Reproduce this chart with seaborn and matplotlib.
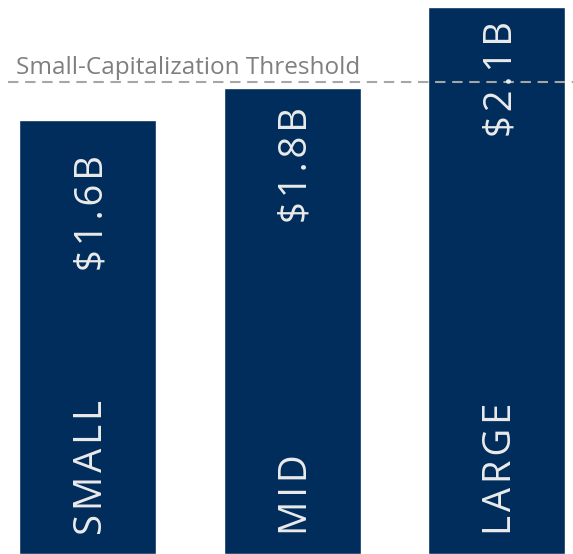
import matplotlib
matplotlib.use("Agg")
import matplotlib.pyplot as plt
import seaborn as sns
import pandas as pd

# bar heights (chart units, axis runs 0..554)
categories = ["SMALL", "MID", "LARGE"]
value_labels = ["$1.6B", "$1.8B", "$2.1B"]
bar_heights = [434, 466, 547]
threshold = 472
threshold_label = "Small-Capitalization Threshold"

navy = "#002D5B"
df = pd.DataFrame({"cap": categories, "height": bar_heights})

sns.set_style("white")
plt.rcParams["font.family"] = ["Open Sans", "DejaVu Sans"]

def spaced(s):
    # wide letter spacing like the original
    return "\u200a".join(s)

fig = plt.figure(figsize=(5.73, 5.54), dpi=100)
ax = fig.add_axes([0, 0, 1, 1])
sns.barplot(data=df, x="cap", y="height", color=navy, saturation=1,
            width=0.67, ax=ax)
ax.set_xlim(-0.43, 2.372)
ax.set_ylim(0, 554)
ax.axis("off")

# dashed threshold line and its label
ax.axhline(threshold, xmin=8 / 573, xmax=1, color="#A6A6A6", lw=1.5,
           dashes=(5, 3.2), zorder=3)
ax.text(16 / 573, 1 - 74 / 554, threshold_label, transform=ax.transAxes,
        fontsize=17.5, color="#7F7F7F", va="baseline", ha="left")

# text inside bars (rotated bbox includes descent, so nudge right)
dx = 0.022
pad = [35, 19, 14]
for i, (cat, lab, h) in enumerate(zip(categories, value_labels, bar_heights)):
    ax.text(i + dx, 19, spaced(cat), rotation=90, ha="center",
            va="bottom", fontsize=27.5, color="#EBEBEB", zorder=4)
    ax.text(i + dx, h - pad[i], spaced(lab), rotation=90, ha="center",
            va="top", fontsize=27.5, color="#EBEBEB", zorder=4)

fig.savefig("out.png", dpi=100)
